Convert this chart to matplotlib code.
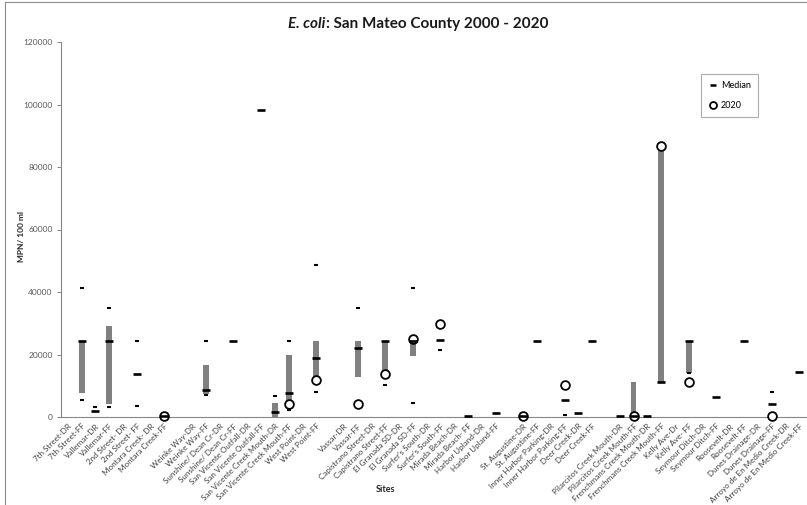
import numpy as np
import matplotlib
matplotlib.use('Agg')
import matplotlib.pyplot as plt
from matplotlib.lines import Line2D

plt.rcParams['font.family'] = ['Lato', 'DejaVu Sans']

N = None
sites = [
    "7th Street-DR", "7th Street-FF", "Vallemar-DR", "Vallemar-FF", "2nd Street- DR",
    "2nd Street- FF", "Montara Creek- DR", "Montara Creek-FF", "",
    "Weinke Way-DR", "Weinke Way-FF", "Sunshine/ Dean Cr-DR", "Sunshine/ Dean Cr-FF",
    "San Vicente Outfall-DR", "San Vicente Outfall-FF", "San Vicente Creek Mouth-DR",
    "San Vicente Creek Mouth-FF", "West Point-DR",
    "West Point-FF", "", "Vassar-DR", "Vassar-FF", "Capistrano Street-DR",
    "Capistrano Street-FF", "El Granada SD-DR", "El Granada SD-FF", "Surfer's South-DR",
    "Surfer's South-FF", "Mirada Beach-DR", "Mirada Beach- FF", "Harbor Upland-DR",
    "Harbor Upland-FF", "", "St. Augustine-DR", "St. Augustine-FF", "Inner Harbor Parking-DR",
    "Inner Harbor Parking-FF", "Deer Creek-DR", "Deer Creek-FF", "",
    "Pilarcitos Creek Mouth-DR", "Pilarcitos Creek Mouth-FF", "Frenchmans Creek Mouth-DR",
    "Frenchmans Creek Mouth-FF", "Kelly Ave-Dr",
    "Kelly Ave- FF", "Seymour Ditch-DR", "Seymour Ditch-FF", "Roosevelt-DR", "Roosevelt-FF",
    "Dunes Drainage-DR", "Dunes Drainage-FF", "Arroyo de En Medio Creek-DR",
    "Arroyo de En Medio Creek-FF",
]

range_low = [
    N, 7600, N, 4200, N, N, N, N, N,
    N, 7300, N, N, N, N, 0, 4500, N,
    12400, N, N, 12700, N, 14000, N, 19400, N,
    N, N, N, N, N, N, N, N, N,
    N, N, N, N, N, 0, N, 11300, N,
    14200, N, N, N, N, N, N, N, N,
]
range_high = [
    N, 24200, N, 29200, N, N, N, N, N,
    N, 16700, N, N, N, N, 4500, 19900, N,
    24400, N, N, 24200, N, 24400, N, 24700, N,
    N, N, N, N, N, N, N, N, N,
    N, N, N, N, N, 11300, N, 86800, N,
    24400, N, N, N, N, N, N, N, N,
]
median = [
    N, 24200, 1900, 24400, N, 13700, N, 200, N,
    N, 8700, N, 24400, N, 98200, 1700, 7800, N,
    18800, N, N, 22000, N, 24400, N, 24200, N,
    24500, N, 400, N, 1400, N, 200, 24400, N,
    5450, 1200, 24400, N, 400, 300, 400, 11300, N,
    24400, N, 6500, N, 24400, N, 4200, N, 14300,
]
upper_pt = [
    N, 41300, 3300, 34800, N, 24400, N, N, N,
    N, 24300, N, N, N, N, 6700, 24400, N,
    48500, N, N, 34800, N, N, N, 41300, N,
    N, N, N, N, N, N, N, N, N,
    N, N, N, N, N, N, N, N, N,
    N, N, N, N, N, N, 8100, N, N,
]
lower_pt = [
    N, 5450, N, 3200, N, 3500, N, N, N,
    N, 7100, N, N, N, N, N, 2250, N,
    8100, N, N, N, N, 10300, N, 4400, N,
    21500, N, N, N, N, N, N, N, N,
    500, N, N, N, N, N, N, N, N,
    14000, N, N, N, N, N, N, N, N,
]
y2020 = [
    N, N, N, N, N, N, N, 200, N,
    N, N, N, N, N, N, N, 4200, N,
    11700, N, N, 4100, N, 13700, N, 24900, N,
    29900, N, N, N, N, N, 200, N, N,
    10300, N, N, N, N, 300, N, 86800, N,
    11100, N, N, N, N, N, 300, N, N,
]

def arr(v):
    return np.array([np.nan if x is None else x for x in v], dtype=float)

lo, hi, med, up, dn, c20 = map(arr, [range_low, range_high, median, upper_pt, lower_pt, y2020])
x = np.arange(1, len(sites) + 1)

W, H = 807, 505
fig = plt.figure(figsize=(W / 100, H / 100), dpi=100)
ax = fig.add_axes([61 / W, 1 - 417 / H, (806 - 61) / W, (417 - 42) / H])

ok = ~np.isnan(lo)
ax.bar(x[ok], (hi - lo)[ok], bottom=lo[ok], width=0.42, color='#808080', zorder=2)
ax.plot(x, c20, ls='none', marker='o', ms=6.3, mfc='white', mec='black', mew=1.3,
        zorder=3, clip_on=False)
ax.plot(x, med, ls='none', marker='_', ms=6, mec='black', mew=1.9, zorder=4, clip_on=False)
ax.plot(x, up, ls='none', marker='_', ms=2.5, mec='black', mew=1.5, zorder=4)
ax.plot(x, dn, ls='none', marker='_', ms=2.5, mec='black', mew=1.5, zorder=4)

ax.set_xlim(0.5, len(sites) + 0.5)
ax.set_ylim(0, 120000)
ax.set_yticks(np.arange(0, 120001, 20000))
ax.set_yticklabels([str(v) for v in range(0, 120001, 20000)], fontsize=6, color='#595959')
ax.set_xticks(x)
ax.set_xticklabels(sites, rotation=45, ha='right', rotation_mode='anchor',
                   fontsize=5.8, color='#404040')
ax.tick_params(axis='x', length=0, pad=4)
ax.tick_params(axis='y', length=3, width=0.7, color='#868686', pad=3)
for s in ['top', 'right']:
    ax.spines[s].set_visible(False)
for s in ['left', 'bottom']:
    ax.spines[s].set_color('#868686')
    ax.spines[s].set_linewidth(0.8)

# axis titles
fig.text(21 / W, 1 - 236 / H, "MPN/ 100 ml", rotation=90, fontsize=6, fontweight='bold',
         ha='center', va='center', color='#262626')
fig.text(386 / W, 1 - 490 / H, "Sites", fontsize=6.5, fontweight='bold',
         ha='center', va='center', color='#262626')

# title: italic part + regular part, centered
renderer = fig.canvas.get_renderer()
ty = 1 - 24 / H
t1 = fig.text(0, ty, "E. coli", fontsize=11, fontweight='bold', style='italic',
              ha='left', va='center', color='#1a1a1a')
t2 = fig.text(0, ty, ": San Mateo County 2000 - 2020", fontsize=11, fontweight='bold',
              ha='left', va='center', color='#1a1a1a')
w1 = t1.get_window_extent(renderer).width
w2 = t2.get_window_extent(renderer).width
x0 = 418 - (w1 + w2) / 2
t1.set_x(x0 / W)
t2.set_x((x0 + w1 + 1) / W)

# legend
handles = [
    Line2D([], [], ls='none', marker='_', ms=5, mec='black', mew=1.8, label='Median'),
    Line2D([], [], ls='none', marker='o', ms=5, mfc='white', mec='black', mew=1.3, label='2020'),
]
leg = ax.legend(handles=handles, loc='upper left', bbox_to_anchor=(701 / W, 1 - 74 / H),
                bbox_transform=fig.transFigure, borderaxespad=0, fontsize=6.5,
                handlelength=1.0, handletextpad=0.4, labelspacing=1.2, borderpad=0.8,
                fancybox=False, frameon=True)
leg.get_frame().set_edgecolor('#999999')
leg.get_frame().set_linewidth(0.8)

# chart border (left/top)
fig.add_artist(Line2D([5 / W, 5 / W], [0, 1 - 1.5 / H], color='#8c8c8c', lw=0.8))
fig.add_artist(Line2D([5 / W, 1], [1 - 1.5 / H, 1 - 1.5 / H], color='#8c8c8c', lw=0.8))

fig.savefig('out.png', dpi=100)
